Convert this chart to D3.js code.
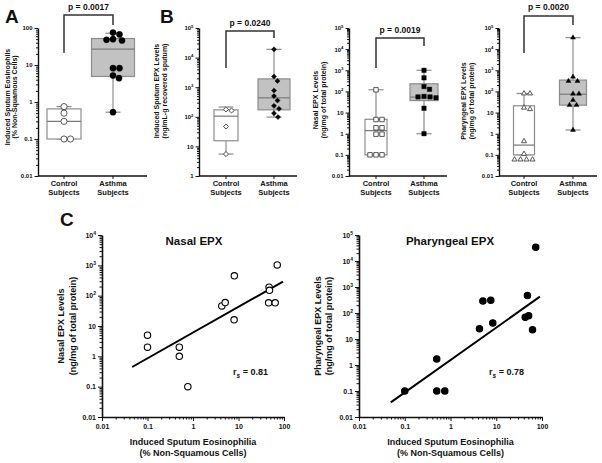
<!DOCTYPE html>
<html><head><meta charset="utf-8">
<script src="https://cdn.jsdelivr.net/npm/d3@7"></script>
<style>
body{margin:0;background:#fff}
text{font-family:"Liberation Sans",Arial,Helvetica,sans-serif;font-weight:bold;fill:#111}
</style>
</head><body>
<svg id="c" width="602" height="463"></svg>
<script>
// ---------------- DATA ----------------
const categories = ["Control Subjects", "Asthma Subjects"];

// Panel A: induced sputum eosinophils (% non-squamous cells)
const eosControl = [0.75, 0.5, 0.3, 0.1, 0.1];
const eosAsthma = [75, 67, 48, 46, 50, 8.2, 8.2, 5.2, 4.4, 0.53];
// box stats: [q1, median, q3, whiskerLow, whiskerHigh]
const eosBoxControl = [0.1, 0.3, 0.65, 0.1, 0.75];
const eosBoxAsthma = [4.9, 27, 52, 0.53, 72];
const eosP = "p = 0.0017";

// Panel B: induced sputum EPX (ng/mL-g recovered sputum)
const sputEpxControl = [178, 163, 47, 5.5];
const sputEpxAsthma = [19000, 2290, 1620, 776, 500, 355, 234, 186, 132, 98];
const sputEpxBoxControl = [15.5, 105, 172, 5.5, 214];
const sputEpxBoxAsthma = [172, 437, 1910, 98, 19000];
const sputEpxP = "p = 0.0240";

// Nasal EPX (ng/mg of total protein)
const nasalControl = [119, 4.7, 4.7, 1.9, 1.9, 0.95, 0.95, 0.1, 0.1, 0.1];
const nasalAsthma = [1000, 440, 170, 126, 55, 50, 58, 55, 16, 1];
const nasalBoxControl = [0.1, 1.4, 4.8, 0.1, 120];
const nasalBoxAsthma = [37, 54, 230, 1, 1000];
const nasalP = "p = 0.0019";

// Pharyngeal EPX (ng/mg of total protein)
const pharControl = [80, 80, 17, 14.5, 0.44, 0.11, 0.06, 0.06, 0.06, 0.06];
const pharAsthma = [35000, 490, 310, 310, 77, 77, 39, 22.5, 22.5, 1.5];
const pharBoxControl = [0.1, 0.29, 21, 0.1, 80];
const pharBoxAsthma = [22.4, 74, 344, 1.5, 35000];
const pharP = "p = 0.0020";

// Panel C: correlations with induced sputum eosinophilia
const nasalScatterX = [0.1, 0.1, 0.5, 0.5, 0.77, 4.3, 5.1, 8.1, 8, 47, 48, 46, 64, 71];
const nasalScatterY = [5, 2, 2, 1, 0.1, 46, 59, 450, 16, 190, 150, 58, 58, 1030];
const nasalFitX = [0.046, 95];
const nasalFitY = [0.445, 289];
const nasalRs = "0.81";

const pharScatterX = [0.1, 0.5, 0.5, 0.75, 4.3, 5.1, 7.6, 8.4, 43, 51, 48, 62, 73];
const pharScatterY = [0.1, 1.7, 0.1, 0.1, 25, 292, 310, 41, 69, 78, 469, 22.5, 33600];
const pharFitX = [0.0495, 90];
const pharFitY = [0.0367, 424];
const pharRs = "0.78";

// ---------------- DRAWING ----------------
const svg = d3.select("#c");

function logFmt(e, pow) {
  if (e >= 0) {
    if (pow && e >= 2) return {base: "10", sup: String(e)};
    return {base: "1" + "0".repeat(e)};
  }
  return {base: "0." + "0".repeat(-e - 1) + "1"};
}
function decades(lo, hi) {
  return d3.range(Math.round(Math.log10(lo)), Math.round(Math.log10(hi)) + 1).map(e => Math.pow(10, e));
}
function minorsOf(lo, hi) {
  const out = [];
  decades(lo, hi).forEach(d => { for (let k = 2; k <= 9; k++) if (d * k < hi * 1.0001) out.push(d * k); });
  return out;
}
function styleAxis(g, sw) {
  g.select(".domain").attr("stroke", "#111").attr("stroke-width", sw);
  g.selectAll(".tick line").attr("stroke", "#111").attr("stroke-width", 1);
}
function logYAxis(g, y, xPos, pow, fs, majorLen, minorLen, sw) {
  const [lo, hi] = y.domain();
  const ax = g.append("g").attr("transform", `translate(${xPos},0)`)
    .call(d3.axisLeft(y).tickValues(decades(lo, hi)).tickSize(majorLen).tickSizeOuter(0).tickPadding(2));
  ax.selectAll(".tick text").attr("font-size", fs).attr("font-family", null).each(function (d) {
    const f = logFmt(Math.round(Math.log10(d)), pow);
    const t = d3.select(this).text(null);
    t.append("tspan").text(f.base);
    if (f.sup) t.append("tspan").attr("dy", -fs * 0.45).attr("font-size", fs * 0.72).text(f.sup);
  });
  styleAxis(ax, sw);
  const mn = g.append("g").attr("transform", `translate(${xPos},0)`)
    .call(d3.axisLeft(y).tickValues(minorsOf(lo, hi)).tickSize(minorLen).tickFormat(""));
  mn.select(".domain").remove();
  mn.selectAll(".tick line").attr("stroke", "#111");
}

function swarm(vals, y, cx, minDist) {
  const pts = vals.map(v => ({v, y: y(v)})).sort((a, b) => a.y - b.y);
  const placed = [];
  pts.forEach(p => {
    let best = 0;
    for (let k = 0; k < 400; k++) {
      const off = (k % 2 ? 1 : -1) * Math.ceil(k / 2) * 0.5;
      if (placed.every(q => (q.off - off) ** 2 + (q.y - p.y) ** 2 >= minDist * minDist)) { best = off; break; }
    }
    p.off = best;
    placed.push(p);
  });
  return pts.map(p => ({v: p.v, x: cx + p.off, y: p.y}));
}

const BOX_TOP = 28, BOX_BOT = 176;

function boxPanel(p) {
  const g = svg.append("g");
  const y = d3.scaleLog().domain(p.yDomain).range([BOX_BOT, BOX_TOP]);
  const x = d3.scalePoint().domain(categories).range([p.cx0, p.cx1]);

  // axes
  logYAxis(g, y, p.x0, p.pow, 6, 3.5, 2, 1.4);
  const xa = g.append("g").attr("transform", `translate(0,${BOX_BOT})`);
  xa.append("line").attr("x1", p.x0).attr("x2", p.x1).attr("stroke", "#111").attr("stroke-width", 1.4);
  categories.forEach(c => {
    xa.append("line").attr("x1", x(c)).attr("x2", x(c)).attr("y1", 0).attr("y2", 3).attr("stroke", "#111");
    const t = xa.append("text").attr("text-anchor", "middle").attr("font-size", 7.5);
    c.split(" ").forEach((w, i) => t.append("tspan").attr("x", x(c)).attr("y", 10 + i * 9).text(w));
  });

  // y title
  p.title.forEach((line, i) => {
    g.append("text").attr("transform", `translate(${p.titleX[i]},${p.titleY}) rotate(-90)`)
      .attr("text-anchor", "middle").attr("font-size", 7).text(line);
  });

  // boxes
  const boxes = [p.boxC, p.boxA];
  const fills = ["#ffffff", "#c2c2c2"];
  const bc = "#8c8c8c";
  categories.forEach((c, i) => {
    const b = boxes[i], cx = x(c), w = p.boxW[i], cap = 15;
    g.append("line").attr("x1", cx).attr("x2", cx).attr("y1", y(b[2])).attr("y2", y(b[4])).attr("stroke", bc).attr("stroke-width", 1.2);
    g.append("line").attr("x1", cx).attr("x2", cx).attr("y1", y(b[0])).attr("y2", y(b[3])).attr("stroke", bc).attr("stroke-width", 1.2);
    [b[3], b[4]].forEach(v => g.append("line").attr("x1", cx - cap / 2).attr("x2", cx + cap / 2)
      .attr("y1", y(v)).attr("y2", y(v)).attr("stroke", bc).attr("stroke-width", 1.2));
    g.append("rect").attr("x", cx - w / 2).attr("width", w).attr("y", y(b[2])).attr("height", y(b[0]) - y(b[2]))
      .attr("fill", fills[i]).attr("stroke", bc).attr("stroke-width", 1.2);
    g.append("line").attr("x1", cx - w / 2).attr("x2", cx + w / 2).attr("y1", y(b[1])).attr("y2", y(b[1]))
      .attr("stroke", "#7a7a7a").attr("stroke-width", 1.2);
  });

  // points
  const sets = [p.ctrl, p.asth];
  categories.forEach((c, i) => {
    const pts = swarm(sets[i], y, x(c), p.dist);
    g.selectAll(null).data(pts).enter().append("path")
      .attr("d", d3.symbol().type(p.sym).size(p.symSize))
      .attr("transform", d => `translate(${d.x},${d.y}) rotate(${p.rot || 0})`)
      .attr("fill", i === 0 ? "#fff" : "#000")
      .attr("stroke", i === 0 ? "#444" : "#000").attr("stroke-width", i === 0 ? 0.9 : 0.4);
  });

  // significance bracket
  const cx0 = x(categories[0]), cx1 = x(categories[1]);
  g.append("path").attr("d", `M${cx0},${p.br[1]}V${p.br[0]}H${cx1}V${p.br[2]}`)
    .attr("fill", "none").attr("stroke", "#333").attr("stroke-width", 1.5);
  g.append("text").attr("x", (cx0 + cx1) / 2).attr("y", p.pY).attr("text-anchor", "middle")
    .attr("font-size", 8.5).text(p.pText);
}

boxPanel({x0: 38, x1: 147, cx0: 64, cx1: 113, yDomain: [0.01, 100], pow: false,
  ctrl: eosControl, asth: eosAsthma, boxC: eosBoxControl, boxA: eosBoxAsthma, boxW: [34, 43],
  sym: d3.symbolCircle, symSize: 30, dist: 6.5,
  title: ["Induced Sputum Eosinophils", "(% Non-Squamous Cells)"], titleX: [10, 17], titleY: 97,
  br: [15, 53, 25], pText: eosP, pY: 10});

boxPanel({x0: 199, x1: 297, cx0: 226, cx1: 274, yDomain: [1, 1e5], pow: true,
  ctrl: sputEpxControl, asth: sputEpxAsthma, boxC: sputEpxBoxControl, boxA: sputEpxBoxAsthma, boxW: [24, 32],
  sym: d3.symbolSquare, rot: 45, symSize: 13, dist: 5.5,
  title: ["Induced Sputum EPX Levels", "(ng/mL-g recovered sputum)"], titleX: [159, 166.5], titleY: 91,
  br: [31, 68, 38], pText: sputEpxP, pY: 26});

boxPanel({x0: 349, x1: 447, cx0: 376, cx1: 424, yDomain: [0.01, 1e5], pow: true,
  ctrl: nasalControl, asth: nasalAsthma, boxC: nasalBoxControl, boxA: nasalBoxAsthma, boxW: [22, 28],
  sym: d3.symbolSquare, symSize: 20, dist: 6,
  title: ["Nasal EPX Levels", "(ng/mg of total protein)"], titleX: [318, 325.5], titleY: 100,
  br: [38, 68, 46], pText: nasalP, pY: 33});

boxPanel({x0: 499, x1: 597, cx0: 524, cx1: 573, yDomain: [0.01, 1e5], pow: true,
  ctrl: pharControl, asth: pharAsthma, boxC: pharBoxControl, boxA: pharBoxAsthma, boxW: [21, 27],
  sym: d3.symbolTriangle, symSize: 11, dist: 6,
  title: ["Pharyngeal EPX Levels", "(ng/mg of total protein)"], titleX: [466, 474], titleY: 101,
  br: [16, 53, 25], pText: pharP, pY: 10});

// scatter panels
const SC_TOP = 235, SC_BOT = 417;
function scatterPanel(p) {
  const g = svg.append("g");
  const x = d3.scaleLog().domain([0.01, 100]).range([p.x0, p.x1]);
  const y = d3.scaleLog().domain(p.yDomain).range([SC_BOT, SC_TOP]);

  logYAxis(g, y, p.x0, true, 7, 4, 2.5, 1.6);
  const xa = g.append("g").attr("transform", `translate(0,${SC_BOT})`)
    .call(d3.axisBottom(x).tickValues(decades(0.01, 100)).tickSize(4).tickSizeOuter(0).tickPadding(3)
      .tickFormat(d => logFmt(Math.round(Math.log10(d)), false).base));
  xa.selectAll(".tick text").attr("font-size", 7).attr("font-family", null);
  styleAxis(xa, 1.6);
  const xm = g.append("g").attr("transform", `translate(0,${SC_BOT})`)
    .call(d3.axisBottom(x).tickValues(minorsOf(0.01, 100)).tickSize(2.5).tickFormat(""));
  xm.select(".domain").remove();
  xm.selectAll(".tick line").attr("stroke", "#111");

  // fit line
  const line = d3.line().x(d => x(d[0])).y(d => y(d[1]));
  g.append("path").attr("d", line(p.fitX.map((v, i) => [v, p.fitY[i]])))
    .attr("stroke", "#000").attr("stroke-width", 2).attr("fill", "none");

  // points
  const pts = p.xs.map((v, i) => [v, p.ys[i]]);
  g.selectAll(null).data(pts).enter().append("circle")
    .attr("cx", d => x(d[0])).attr("cy", d => y(d[1])).attr("r", 3.2)
    .attr("fill", p.filled ? "#000" : "#fff").attr("stroke", "#000").attr("stroke-width", 1.1);

  // titles
  const cx = (p.x0 + p.x1) / 2;
  g.append("text").attr("x", p.titleCX).attr("y", 245).attr("text-anchor", "middle").attr("font-size", 11.5).text(p.title);
  const t = g.append("text").attr("x", p.rsX).attr("y", 375).attr("font-size", 9);
  t.append("tspan").text("r");
  t.append("tspan").attr("dy", 2.5).attr("font-size", 6.5).attr("font-style", "italic").text("s");
  t.append("tspan").attr("dy", -2.5).text(" = " + p.rs);
  g.append("text").attr("x", cx).attr("y", 445).attr("text-anchor", "middle").attr("font-size", 9).text("Induced Sputum Eosinophilia");
  g.append("text").attr("x", cx).attr("y", 456).attr("text-anchor", "middle").attr("font-size", 9).text("(% Non-Squamous Cells)");
  p.ytitle.forEach((line, i) => {
    g.append("text").attr("transform", `translate(${p.ytX[i]},326) rotate(-90)`)
      .attr("text-anchor", "middle").attr("font-size", 9).text(line);
  });
}

scatterPanel({x0: 102, x1: 284, yDomain: [0.01, 1e4], xs: nasalScatterX, ys: nasalScatterY,
  fitX: nasalFitX, fitY: nasalFitY, filled: false, title: "Nasal EPX", titleCX: 194, rs: nasalRs, rsX: 233,
  ytitle: ["Nasal EPX Levels", "(ng/mg of total protein)"], ytX: [64, 75.5]});
scatterPanel({x0: 359, x1: 542, yDomain: [0.01, 1e5], xs: pharScatterX, ys: pharScatterY,
  fitX: pharFitX, fitY: pharFitY, filled: true, title: "Pharyngeal EPX", titleCX: 450, rs: pharRs, rsX: 489,
  ytitle: ["Pharyngeal EPX Levels", "(ng/mg of total protein)"], ytX: [320.5, 332]});

// panel letters
[["A", 5, 23], ["B", 160, 23], ["C", 60, 226]].forEach(([l, lx, ly]) =>
  svg.append("text").attr("x", lx).attr("y", ly).attr("font-size", 19).attr("font-weight", 900).text(l));
</script>
</body></html>
